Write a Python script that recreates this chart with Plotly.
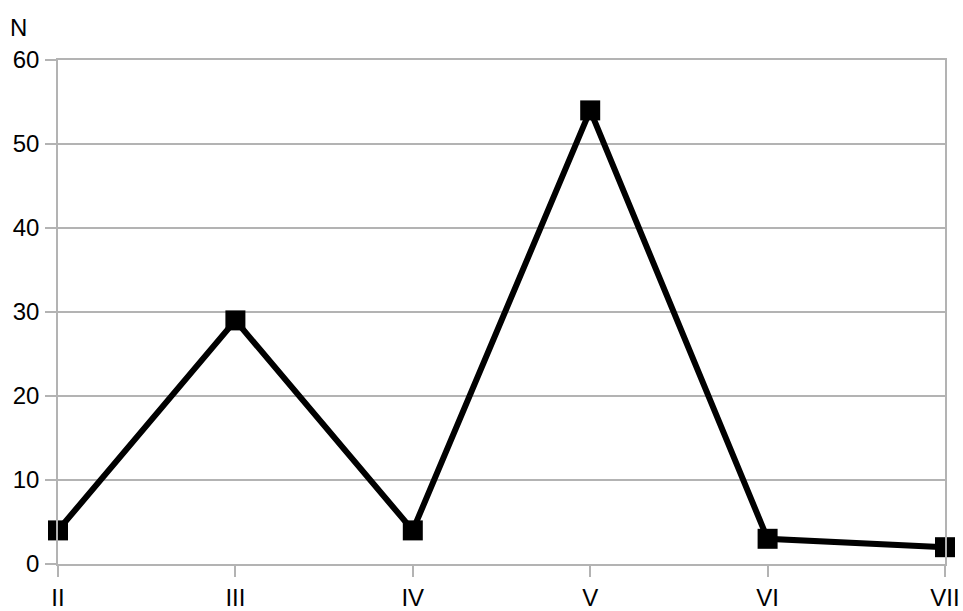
import plotly.graph_objects as go

categories = ["II", "III", "IV", "V", "VI", "VII"]
values = [4, 29, 4, 54, 3, 2]
y_ticks = [0, 10, 20, 30, 40, 50, 60]

grid = "#b3b3b3"
txt = dict(family="Liberation Sans", size=24, color="black")
fig = go.Figure(go.Scatter(
    x=categories, y=values, mode="lines+markers",
    line=dict(color="black", width=6),
    marker=dict(symbol="square", size=20, color="black"),
    cliponaxis=False,
))
fig.update_layout(
    width=963, height=611,
    margin=dict(l=58, r=18, t=60, b=47),
    plot_bgcolor="white", paper_bgcolor="white",
    showlegend=False,
    font=txt,
)
fig.update_xaxes(
    type="category", range=[0, len(categories) - 1], automargin=False,
    tickfont=txt,
    showgrid=False, showline=True, mirror=True, linecolor=grid, linewidth=1.5,
    ticks="outside", ticklen=11, tickcolor=grid, tickwidth=1.5,
    zeroline=False, ticklabelstandoff=0,
)
fig.update_yaxes(
    range=[0, 60], tickvals=y_ticks, automargin=False,
    tickfont=txt,
    showgrid=True, gridcolor=grid, gridwidth=1.5,
    showline=True, mirror=True, linecolor=grid, linewidth=1.5,
    ticks="outside", ticklen=11, tickcolor=grid, tickwidth=1.5,
    zeroline=False, ticklabelstandoff=1,
)
fig.add_annotation(text="N", x=-0.056, y=1.0635, xref="paper", yref="paper",
                   xanchor="left", yanchor="middle", showarrow=False, font=txt)
fig.write_html("out.html", config={"displayModeBar": False},
               post_script="document.body.style.margin='0';document.body.style.overflow='hidden';")
